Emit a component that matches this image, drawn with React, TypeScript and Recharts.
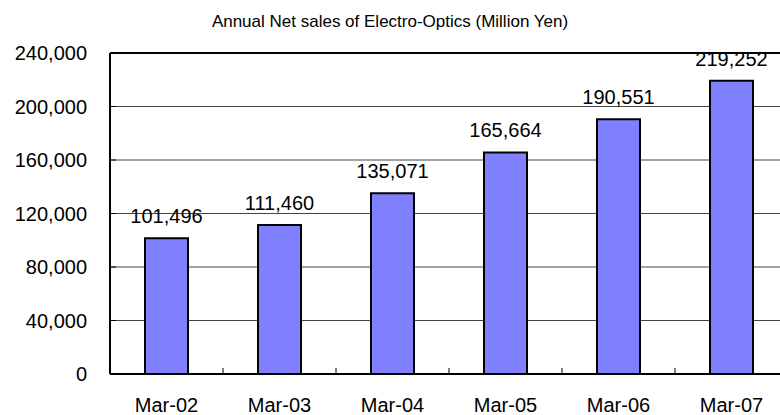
import { Bar, BarChart, CartesianGrid, LabelList, ReferenceLine, XAxis, YAxis } from "recharts";

const years = ["Mar-02", "Mar-03", "Mar-04", "Mar-05", "Mar-06", "Mar-07"];
const sales = [101496, 111460, 135071, 165664, 190551, 219252];
const yTicks = [0, 40000, 80000, 120000, 160000, 200000, 240000];

const data = years.map((name, i) => ({ name, sales: sales[i] }));

const FONT = '"Liberation Sans", Arial, sans-serif';
const fmt = (v: number) => v.toLocaleString("en-US");

// x ticks: label under the bar, small inward tick at the category boundary
const XTick = ({ x, y, payload }: any) => {
  const off = payload?.offset;
  return (
    <g>
      {off != null && (
        <line x1={x - off} x2={x - off} y1={y} y2={y - 6} stroke="#000" strokeWidth={1} />
      )}
      <text x={x} y={y + 38} textAnchor="middle" fontSize={20} fontFamily={FONT} fill="#000">
        {payload.value}
      </text>
    </g>
  );
};

const YTick = ({ x, y, payload }: any) => (
  <g>
    <line x1={x} x2={x + 6} y1={y} y2={y} stroke="#000" strokeWidth={1} />
    <text x={x - 23} y={y + 7} textAnchor="end" fontSize={20} fontFamily={FONT} fill="#000">
      {fmt(payload.value)}
    </text>
  </g>
);

export default function App() {
  return (
    <div
      style={{
        position: "absolute",
        left: 0,
        top: 0,
        width: 780,
        height: 415,
        overflow: "hidden",
        background: "#fff",
        fontFamily: FONT,
      }}
    >
      <div
        style={{
          position: "absolute",
          top: 13,
          left: 0,
          width: 780,
          textAlign: "center",
          fontSize: 17,
          lineHeight: "17px",
          color: "#000",
        }}
      >
        Annual Net sales of Electro-Optics (Million Yen)
      </div>
      <BarChart
        width={790}
        height={415}
        data={data}
        margin={{ top: 53, right: 2, bottom: 0, left: 0 }}
        barCategoryGap="30%"
      >
        <CartesianGrid vertical={false} stroke="#444" strokeWidth={1} />
        <XAxis
          dataKey="name"
          height={41}
          tickSize={0}
          tickMargin={0}
          tick={<XTick />}
          axisLine={{ stroke: "#000", strokeWidth: 2 }}
          tickLine={false}
          interval={0}
        />
        <YAxis
          width={110}
          domain={[0, 240000]}
          ticks={yTicks}
          tickSize={0}
          tickMargin={0}
          tick={<YTick />}
          axisLine={{ stroke: "#000", strokeWidth: 2 }}
          tickLine={false}
          interval={0}
        />
        <ReferenceLine y={240000} stroke="#000" strokeWidth={2} />
        <Bar dataKey="sales" fill="#8080FF" stroke="#000" strokeWidth={2} barSize={43} isAnimationActive={false}>
          <LabelList
            dataKey="sales"
            position="top"
            offset={15}
            formatter={(v: any) => fmt(Number(v))}
            style={{ fontSize: 20, fontFamily: FONT, fill: "#000" }}
          />
        </Bar>
      </BarChart>
    </div>
  );
}
